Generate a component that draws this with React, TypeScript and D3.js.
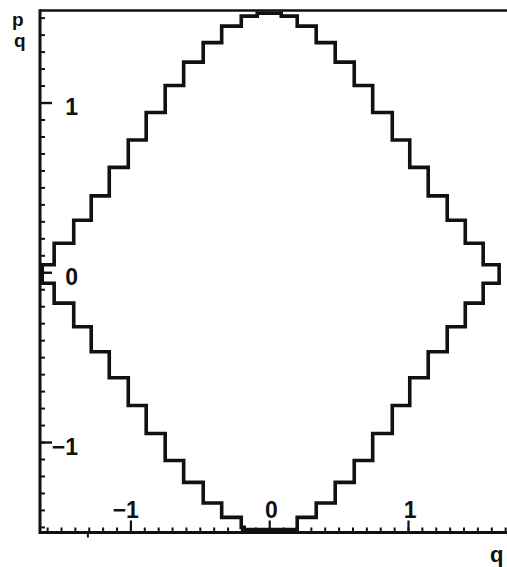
import React from "react";
import * as d3 from "d3";

// Phase-space staircase contour, traced clockwise from the left tip (q, p)
const contourQ = [
  -1.639, -1.553, -1.553, -1.412, -1.412, -1.286, -1.286, -1.156, -1.156, -1.019,
  -1.019, -0.890, -0.890, -0.753, -0.753, -0.620, -0.620, -0.479, -0.479, -0.346,
  -0.346, -0.205, -0.205, -0.090, -0.090, 0.083,
  0.083, 0.198, 0.198, 0.335, 0.335, 0.472, 0.472, 0.609, 0.609, 0.742,
  0.742, 0.883, 0.883, 1.009, 1.009, 1.142, 1.142, 1.279, 1.279, 1.409,
  1.409, 1.538, 1.538, 1.653, 1.653, 1.538,
  1.538, 1.409, 1.409, 1.279, 1.279, 1.142, 1.142, 1.009, 1.009, 0.883,
  0.883, 0.742, 0.742, 0.609, 0.609, 0.472, 0.472, 0.335, 0.335, 0.198,
  0.198, -0.184, -0.184, -0.205,
  -0.205, -0.346, -0.346, -0.479, -0.479, -0.620, -0.620, -0.753, -0.753, -0.890,
  -0.890, -1.019, -1.019, -1.156, -1.156, -1.286, -1.286, -1.412, -1.412, -1.553,
  -1.553, -1.639, -1.639,
];
const contourP = [
  0.047, 0.047, 0.174, 0.174, 0.309, 0.309, 0.453, 0.453, 0.621, 0.621,
  0.782, 0.782, 0.944, 0.944, 1.103, 1.103, 1.241, 1.241, 1.356, 1.356,
  1.453, 1.453, 1.512, 1.512, 1.529, 1.529,
  1.512, 1.512, 1.453, 1.453, 1.356, 1.356, 1.241, 1.241, 1.103, 1.103,
  0.944, 0.944, 0.782, 0.782, 0.621, 0.621, 0.453, 0.453, 0.309, 0.309,
  0.174, 0.174, 0.047, 0.047, -0.062, -0.062,
  -0.179, -0.179, -0.318, -0.318, -0.465, -0.465, -0.618, -0.618, -0.782, -0.782,
  -0.947, -0.947, -1.106, -1.106, -1.235, -1.235, -1.356, -1.356, -1.441, -1.441,
  -1.512, -1.512, -1.500, -1.500,
  -1.441, -1.441, -1.356, -1.356, -1.235, -1.235, -1.106, -1.106, -0.947, -0.947,
  -0.782, -0.782, -0.618, -0.618, -0.465, -0.465, -0.318, -0.318, -0.179, -0.179,
  -0.062, -0.062, 0.047,
];

const majorTicks = [-1, 0, 1];
const tickLabels = ["\u22121", "0", "1"];
const qMinorTicks = d3.range(-16, 18).map((i) => i / 10);
const pMinorTicks = d3.range(-15, 16).map((i) => i / 10);
const qOuterTicks = [-1.31];

const W = 507;
const H = 567;
const INK = "#111";
const FONT = "'Liberation Sans', Arial, sans-serif";

export default function App() {
  const x = d3.scaleLinear().domain([-1.655, 1.75]).range([40, 512.6]);
  const y = d3.scaleLinear().domain([-1.53, 1.545]).range([532.5, 10.5]);

  const pts: [number, number][] = contourQ.map((q, i) => [q, contourP[i]]);
  const line = d3
    .line<[number, number]>()
    .x((d) => x(d[0]))
    .y((d) => y(d[1]))
    .curve(d3.curveLinearClosed);

  const left = x.range()[0];
  const bottom = y.range()[0];
  const top = y.range()[1];

  return (
    <svg
      width={W}
      height={H}
      style={{ position: "absolute", left: 0, top: 0, background: "#fff" }}
    >
      <rect x={0} y={0} width={W} height={H} fill="#fff" />

      {/* frame */}
      <line x1={left} x2={W} y1={top} y2={top} stroke={INK} strokeWidth={2.6} />
      <line x1={left} x2={W} y1={bottom} y2={bottom} stroke={INK} strokeWidth={2.8} />
      <line x1={left} x2={left} y1={top - 1.3} y2={bottom + 1.4} stroke={INK} strokeWidth={3} />

      {/* p-axis ticks */}
      {pMinorTicks.map((v) => (
        <line key={"pm" + v} x1={left} x2={left + 5} y1={y(v)} y2={y(v)} stroke={INK} strokeWidth={2} />
      ))}
      {majorTicks.map((v) => (
        <line key={"pM" + v} x1={left} x2={left + 12} y1={y(v)} y2={y(v)} stroke={INK} strokeWidth={2.4} />
      ))}

      {/* q-axis ticks */}
      {qMinorTicks.map((v) => (
        <line key={"qm" + v} x1={x(v)} x2={x(v)} y1={bottom} y2={bottom - 5} stroke={INK} strokeWidth={2} />
      ))}
      {majorTicks.map((v) => (
        <line key={"qM" + v} x1={x(v)} x2={x(v)} y1={bottom} y2={bottom - 12} stroke={INK} strokeWidth={2.2} />
      ))}
      {qOuterTicks.map((v) => (
        <line key={"qo" + v} x1={x(v)} x2={x(v)} y1={bottom} y2={bottom + 5} stroke={INK} strokeWidth={2} />
      ))}

      {/* tick labels */}
      {majorTicks.map((v, i) => (
        <text
          key={"pl" + v}
          x={78}
          y={y(v) + 12}
          textAnchor="end"
          fontFamily={FONT}
          fontWeight="bold"
          fontSize={23}
          fill={INK}
        >
          {tickLabels[i]}
        </text>
      ))}
      {majorTicks.map((v, i) => (
        <text
          key={"ql" + v}
          x={x(v) + 8}
          y={bottom - 15}
          textAnchor="end"
          fontFamily={FONT}
          fontWeight="bold"
          fontSize={23}
          fill={INK}
        >
          {tickLabels[i]}
        </text>
      ))}

      {/* axis titles */}
      <text x={12} y={26} fontFamily={FONT} fontWeight="bold" fontSize={19} fill={INK}>p</text>
      <text x={14} y={47} fontFamily={FONT} fontWeight="bold" fontSize={19} fill={INK}>q</text>
      <text x={490} y={562} fontFamily={FONT} fontWeight="bold" fontSize={22} fill={INK}>q</text>

      {/* contour */}
      <path
        d={line(pts) ?? ""}
        fill="none"
        stroke={INK}
        strokeWidth={3.6}
        strokeLinejoin="miter"
      />
    </svg>
  );
}
